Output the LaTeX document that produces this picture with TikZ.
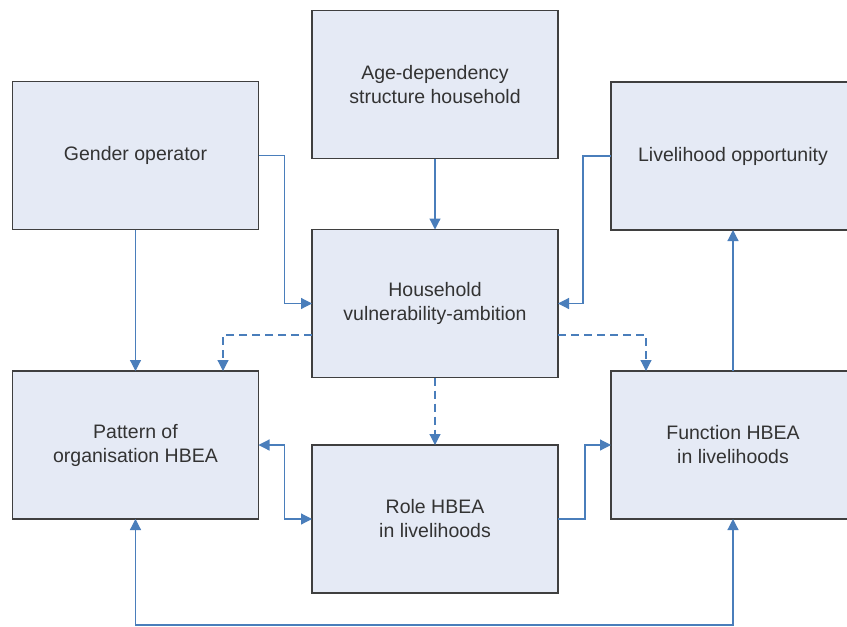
\documentclass[tikz,border=0pt]{standalone}
\usepackage{fontspec}
\setmainfont{Liberation Sans}
\usetikzlibrary{arrows.meta}
\definecolor{boxfill}{HTML}{E5EAF5}
\definecolor{boxline}{HTML}{3F3F3F}
\definecolor{linkblue}{HTML}{4A7EBB}

\begin{document}
\begin{tikzpicture}[x=1pt,y=-1pt,
  box/.style={draw=boxline,line width=1.6pt,fill=boxfill,text=black!80,align=center,
    minimum width=246pt,minimum height=148pt,inner sep=0pt,outer sep=0pt,
    font=\fontsize{19.5}{24}\selectfont},
  link/.style={draw=linkblue,line width=1.2pt,-{Triangle[length=11pt,width=11pt]}},
  dlink/.style={link,dash pattern=on 8pt off 5pt}]
\clip (0,0) rectangle (847,627);
\fill [white] (0,0) rectangle (847,627);

% boxes
\node [box] (age) at (435,84.5) {Age-dependency\\structure household};
\node [box] (gender) at (135.5,155.5) {Gender operator};
\node [box,minimum width=244pt] (opp) at (733,156) {Livelihood opportunity};
\node [box] (hh) at (435,303.5) {Household\\vulnerability-ambition};
\node [box] (pattern) at (135.5,445) {Pattern of\\organisation HBEA};
\node [box,minimum width=244pt] (func) at (733,445) {Function HBEA\\in livelihoods};
\node [box] (role) at (435,519) {Role HBEA\\in livelihoods};
\coordinate (base) at (0,625);

% links
\draw [link] (age) -- (hh);
\draw [link] (gender.east) -- ++(26,0) |- (hh.west);
\draw [link] (opp.west) -- ++(-28,0) |- (hh.east);
\draw [link] (gender) -- (pattern);
\draw [link] (func) -- (opp);
\draw [dlink] ([yshift=-31.5pt]hh.west) -| ([xshift=87.5pt]pattern.north);
\draw [dlink] ([yshift=-31.5pt]hh.east) -| ([xshift=-87pt]func.north);
\draw [dlink] (hh) -- (role);
\draw [link,{Triangle[length=11pt,width=11pt]}-{Triangle[length=11pt,width=11pt]}]
  (pattern.east) -- ++(26,0) |- (role.west);
\draw [link] (role.east) -- ++(27,0) |- (func.west);
\draw [link,{Triangle[length=11pt,width=11pt]}-{Triangle[length=11pt,width=11pt]}]
  (pattern.south) -- (pattern.south |- base) -- (func.south |- base) -- (func.south);
\end{tikzpicture}
\end{document}
